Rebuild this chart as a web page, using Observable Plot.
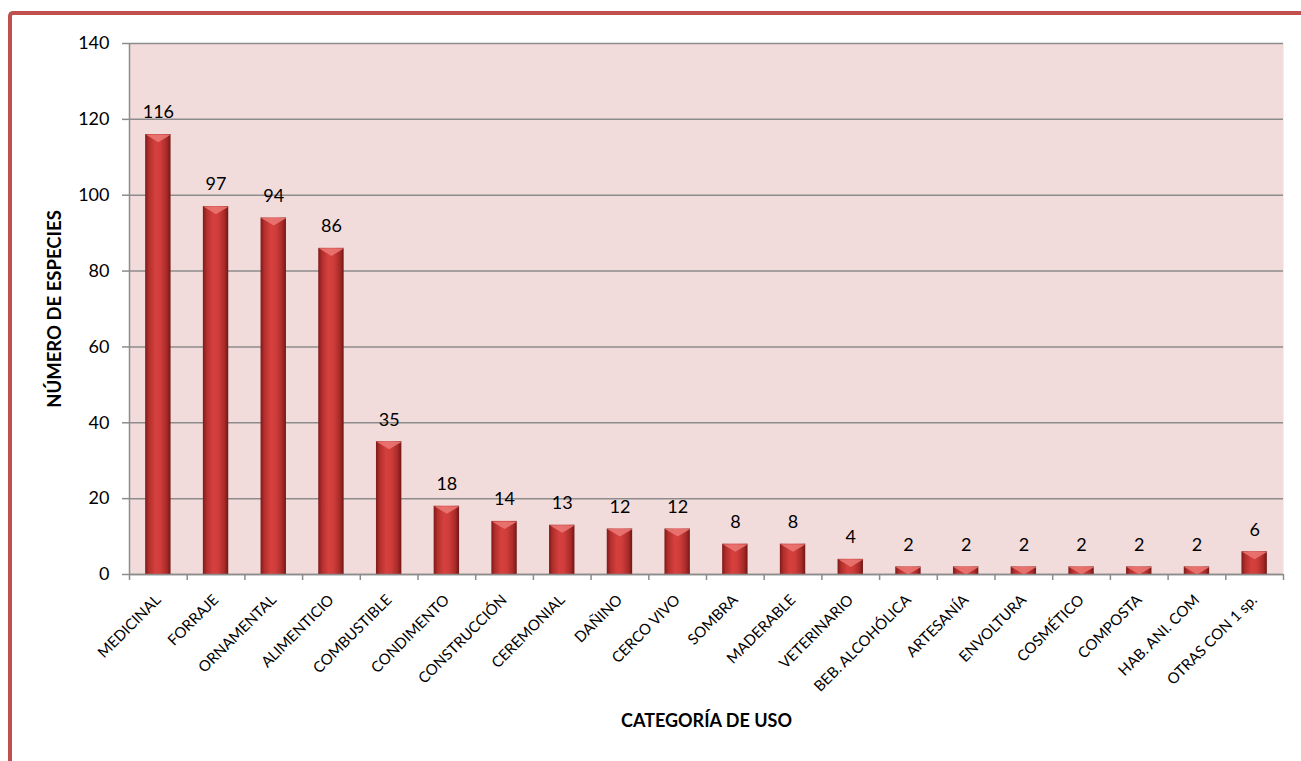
<!DOCTYPE html>
<html>
<head>
<meta charset="utf-8">
<script src="https://cdn.jsdelivr.net/npm/d3@7"></script>
<script src="https://cdn.jsdelivr.net/npm/@observablehq/plot@0.6"></script>
<style>
  html, body { margin: 0; padding: 0; background: #fff; overflow: hidden; }
  #wrap { position: relative; width: 1301px; height: 761px; }
  #border { position: absolute; left: 8px; top: 11px; right: -20px; bottom: -20px;
    border-top: 4px solid #c0504d; border-left: 4px solid #c0504d; border-top-left-radius: 5px; pointer-events: none; }
</style>
</head>
<body>
<div id="wrap"><div id="border"></div></div>
<script>
const categories = ["MEDICINAL","FORRAJE","ORNAMENTAL","ALIMENTICIO","COMBUSTIBLE","CONDIMENTO","CONSTRUCCIÓN","CEREMONIAL","DAÑINO","CERCO VIVO","SOMBRA","MADERABLE","VETERINARIO","BEB. ALCOHÓLICA","ARTESANÍA","ENVOLTURA","COSMÉTICO","COMPOSTA","HAB. ANI. COM","OTRAS CON 1 sp."];
const values = [116,97,94,86,35,18,14,13,12,12,8,8,4,2,2,2,2,2,2,6];
const yTicks = [0,20,40,60,80,100,120,140];
const yTitle = "NÚMERO DE ESPECIES";
const xTitle = "CATEGORÍA DE USO";

const data = categories.map((c, i) => ({cat: c, n: values[i]}));

const W = 1301, H = 761, mL = 129, mR = 18, mT = 43, mB = 187;
const step = (W - mL - mR) / categories.length;
const inset = step * 0.28;
const barW = step - 2 * inset;

const bevel = {
  draw(ctx, size) {
    const r = Math.sqrt(size / Math.PI);
    ctx.moveTo(-r, 0); ctx.lineTo(r, 0); ctx.lineTo(0, r * 0.6); ctx.closePath();
  }
};

const grid = "#8c8c8c";
const chart = Plot.plot({
  width: W, height: H,
  marginLeft: mL, marginRight: mR, marginTop: mT, marginBottom: mB,
  style: {fontFamily: "Lato, sans-serif", fontSize: "18px", color: "#000", background: "transparent", overflow: "visible"},
  x: {domain: categories, padding: 0, round: false, axis: null},
  y: {domain: [0, 140], axis: null},
  marks: [
    Plot.frame({fill: "#f2dcdb", stroke: null}),
    Plot.gridY(yTicks, {stroke: grid, strokeOpacity: 1, strokeWidth: 1.5}),
    Plot.axisY({ticks: yTicks, tickSize: 7, tickPadding: 13, stroke: grid, strokeWidth: 1.5, fontSize: 18, fill: "#000", label: null}),
    Plot.barY(data, {x: "cat", y: "n", fill: "url(#barGrad)", insetLeft: inset, insetRight: inset}),
    Plot.dot(data, {x: "cat", y: "n", symbol: bevel, r: barW / 2, fill: "#ea7672", stroke: null, fillOpacity: 0.9}),
    Plot.ruleY([0], {stroke: grid, strokeWidth: 1.5}),
    Plot.ruleX([categories[0]], {dx: -step / 2, stroke: grid, strokeWidth: 1.5}),
    Plot.axisX({ticks: categories, tickSize: 6, text: null, dx: -step / 2, stroke: grid, strokeWidth: 1.5, label: null}),
    Plot.axisX({ticks: [categories[categories.length - 1]], tickSize: 6, text: null, dx: step / 2, stroke: grid, strokeWidth: 1.5, label: null}),
    Plot.axisX({ticks: categories, tickSize: 0, tickPadding: 23, tickRotate: -45, fontSize: 15, fill: "#000", label: null}),
    Plot.text(data, {x: "cat", y: "n", text: d => String(d.n), dy: -22, fontSize: 18, fill: "#000"}),
    Plot.text([yTitle], {frameAnchor: "left", dx: -74, rotate: -90, textAnchor: "middle", text: d => d, fontSize: 18.5, fontWeight: "bold", fill: "#000"}),
    Plot.text([xTitle], {frameAnchor: "bottom", dy: 152, text: d => d, fontSize: 18, fontWeight: "bold", fill: "#000"})
  ]
});

const defs = d3.select(chart).insert("defs", ":first-child");
const g = defs.append("linearGradient").attr("id", "barGrad").attr("x1", "0").attr("x2", "1").attr("y1", "0").attr("y2", "0");
[[0, "#7e1a19"], [0.15, "#b22f2d"], [0.4, "#d6403e"], [0.6, "#cf3d3b"], [0.85, "#a82b29"], [1, "#721614"]]
  .forEach(([o, c]) => g.append("stop").attr("offset", o).attr("stop-color", c));

chart.style.position = "absolute";
chart.style.left = "0";
chart.style.top = "0";
document.getElementById("wrap").appendChild(chart);
</script>
</body>
</html>
